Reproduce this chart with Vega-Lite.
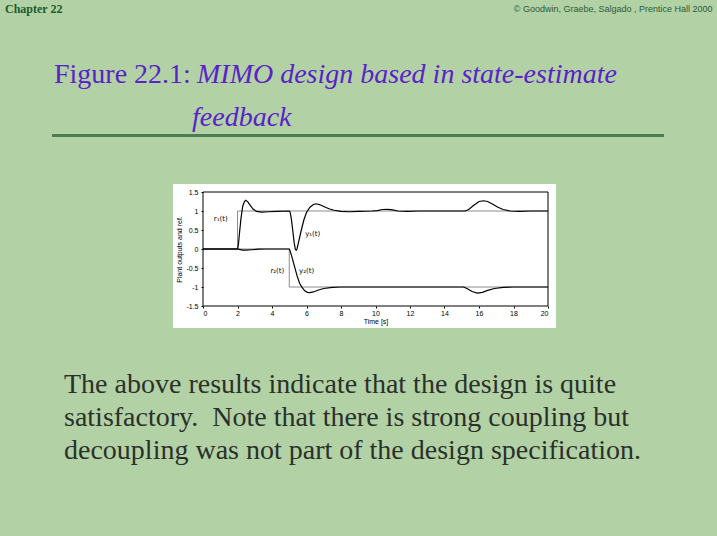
{
  "$schema": "https://vega.github.io/schema/vega-lite/v6.json",
  "width": 345,
  "height": 114,
  "autosize": {"type": "none"},
  "padding": {"left": 203, "top": 192, "right": 169, "bottom": 230},
  "background": "#b2d2a6",
  "config": {
    "view": {"stroke": null, "fill": "white"},
    "axis": {"titleFont": "Liberation Sans", "titleFontSize": 7, "titleFontWeight": "normal", "titleColor": "#000", "labelFont": "Liberation Sans", "labelFontSize": 7, "labelColor": "#000", "tickColor": "#000", "tickSize": 2, "domain": false, "grid": false},
    "axisX": {"titlePadding": 1, "labelPadding": 1},
    "axisY": {"titlePadding": 3, "labelPadding": 3}
  },
  "datasets": {
    "one": [{}],
    "curves": [
      {"series": "r1", "t": 0, "v": 0}, {"series": "r1", "t": 2, "v": 0}, {"series": "r1", "t": 2, "v": 1}, {"series": "r1", "t": 20, "v": 1},
      {"series": "r2", "t": 0, "v": 0}, {"series": "r2", "t": 5, "v": 0}, {"series": "r2", "t": 5, "v": -1}, {"series": "r2", "t": 20, "v": -1},
      {"series": "y1", "t": 0, "v": 0}, {"series": "y1", "t": 2.0, "v": 0}, {"series": "y1", "t": 2.05, "v": 0.1}, {"series": "y1", "t": 2.1, "v": 0.35},
      {"series": "y1", "t": 2.2, "v": 0.8}, {"series": "y1", "t": 2.3, "v": 1.12}, {"series": "y1", "t": 2.4, "v": 1.25}, {"series": "y1", "t": 2.48, "v": 1.28},
      {"series": "y1", "t": 2.6, "v": 1.24}, {"series": "y1", "t": 2.75, "v": 1.14}, {"series": "y1", "t": 2.9, "v": 1.05}, {"series": "y1", "t": 3.1, "v": 0.99},
      {"series": "y1", "t": 3.4, "v": 0.97}, {"series": "y1", "t": 3.8, "v": 0.98}, {"series": "y1", "t": 4.3, "v": 0.99}, {"series": "y1", "t": 5.0, "v": 1.0},
      {"series": "y1", "t": 5.05, "v": 0.97}, {"series": "y1", "t": 5.12, "v": 0.8}, {"series": "y1", "t": 5.2, "v": 0.5}, {"series": "y1", "t": 5.28, "v": 0.18},
      {"series": "y1", "t": 5.35, "v": 0.0}, {"series": "y1", "t": 5.4, "v": -0.03}, {"series": "y1", "t": 5.45, "v": 0.0}, {"series": "y1", "t": 5.55, "v": 0.2},
      {"series": "y1", "t": 5.7, "v": 0.5}, {"series": "y1", "t": 5.85, "v": 0.77}, {"series": "y1", "t": 6.0, "v": 0.96}, {"series": "y1", "t": 6.2, "v": 1.1},
      {"series": "y1", "t": 6.4, "v": 1.17}, {"series": "y1", "t": 6.55, "v": 1.19}, {"series": "y1", "t": 6.75, "v": 1.17}, {"series": "y1", "t": 7.0, "v": 1.12},
      {"series": "y1", "t": 7.3, "v": 1.06}, {"series": "y1", "t": 7.6, "v": 1.02}, {"series": "y1", "t": 8.0, "v": 0.99}, {"series": "y1", "t": 8.5, "v": 0.98},
      {"series": "y1", "t": 9.0, "v": 0.99}, {"series": "y1", "t": 9.8, "v": 1.0}, {"series": "y1", "t": 10.1, "v": 1.01}, {"series": "y1", "t": 10.4, "v": 1.04},
      {"series": "y1", "t": 10.7, "v": 1.045}, {"series": "y1", "t": 11.0, "v": 1.03}, {"series": "y1", "t": 11.3, "v": 1.0}, {"series": "y1", "t": 11.8, "v": 0.99},
      {"series": "y1", "t": 12.5, "v": 1.0}, {"series": "y1", "t": 15.2, "v": 1.0}, {"series": "y1", "t": 15.4, "v": 1.04}, {"series": "y1", "t": 15.7, "v": 1.15},
      {"series": "y1", "t": 16.0, "v": 1.25}, {"series": "y1", "t": 16.25, "v": 1.27}, {"series": "y1", "t": 16.5, "v": 1.25}, {"series": "y1", "t": 16.8, "v": 1.18},
      {"series": "y1", "t": 17.1, "v": 1.1}, {"series": "y1", "t": 17.4, "v": 1.04}, {"series": "y1", "t": 17.8, "v": 1.0}, {"series": "y1", "t": 18.3, "v": 0.99},
      {"series": "y1", "t": 19.0, "v": 1.0}, {"series": "y1", "t": 20.0, "v": 1.0},
      {"series": "y2", "t": 0, "v": 0}, {"series": "y2", "t": 2.0, "v": 0}, {"series": "y2", "t": 2.1, "v": -0.01}, {"series": "y2", "t": 2.3, "v": -0.03},
      {"series": "y2", "t": 2.5, "v": -0.03}, {"series": "y2", "t": 2.8, "v": -0.02}, {"series": "y2", "t": 3.2, "v": -0.005}, {"series": "y2", "t": 3.6, "v": 0},
      {"series": "y2", "t": 5.0, "v": 0}, {"series": "y2", "t": 5.05, "v": -0.05}, {"series": "y2", "t": 5.15, "v": -0.2}, {"series": "y2", "t": 5.3, "v": -0.45},
      {"series": "y2", "t": 5.45, "v": -0.7}, {"series": "y2", "t": 5.6, "v": -0.9}, {"series": "y2", "t": 5.75, "v": -1.02}, {"series": "y2", "t": 5.9, "v": -1.1},
      {"series": "y2", "t": 6.05, "v": -1.14}, {"series": "y2", "t": 6.2, "v": -1.15}, {"series": "y2", "t": 6.4, "v": -1.13}, {"series": "y2", "t": 6.7, "v": -1.08},
      {"series": "y2", "t": 7.0, "v": -1.04}, {"series": "y2", "t": 7.5, "v": -1.01}, {"series": "y2", "t": 8.0, "v": -1.0}, {"series": "y2", "t": 15.1, "v": -1.0},
      {"series": "y2", "t": 15.3, "v": -1.04}, {"series": "y2", "t": 15.6, "v": -1.12}, {"series": "y2", "t": 15.9, "v": -1.16}, {"series": "y2", "t": 16.2, "v": -1.14},
      {"series": "y2", "t": 16.5, "v": -1.09}, {"series": "y2", "t": 16.9, "v": -1.04}, {"series": "y2", "t": 17.4, "v": -1.01}, {"series": "y2", "t": 18.0, "v": -1.0},
      {"series": "y2", "t": 20.0, "v": -1.0}
    ],
    "labels": [
      {"label": "r₁(t)", "t": 1.03, "v": 0.78},
      {"label": "y₁(t)", "t": 6.36, "v": 0.39},
      {"label": "r₂(t)", "t": 4.31, "v": -0.57},
      {"label": "y₂(t)", "t": 6.01, "v": -0.57}
    ]
  },
  "layer": [
    {
      "data": {"name": "one"},
      "mark": {"type": "rect", "fill": "white"},
      "encoding": {
        "x": {"datum": -1.739, "type": "quantitative", "title": "Time [s]", "scale": {"domain": [0, 20], "nice": false}, "axis": {"values": [0, 2, 4, 6, 8, 10, 12, 14, 16, 18, 20], "format": "~g", "zindex": 1}},
        "x2": {"datum": 20.46},
        "y": {"datum": 1.711, "type": "quantitative", "title": "Plant outputs and ref.", "scale": {"domain": [-1.5, 1.5], "nice": false}, "axis": {"values": [-1.5, -1, -0.5, 0, 0.5, 1, 1.5], "format": "~g", "labelExpr": "replace(datum.label, '−', '-')", "zindex": 1}},
        "y2": {"datum": -2.079}
      }
    },
    {
      "data": {"name": "curves"},
      "transform": [{"filter": "datum.series == 'r1' || datum.series == 'r2'"}],
      "mark": {"type": "line", "stroke": "#808080", "strokeWidth": 0.9},
      "encoding": {
        "x": {"field": "t", "type": "quantitative", "title": "Time [s]", "scale": {"domain": [0, 20], "nice": false}, "axis": {"values": [0, 2, 4, 6, 8, 10, 12, 14, 16, 18, 20], "format": "~g", "zindex": 1}},
        "y": {"field": "v", "type": "quantitative", "title": "Plant outputs and ref.", "scale": {"domain": [-1.5, 1.5], "nice": false}, "axis": {"values": [-1.5, -1, -0.5, 0, 0.5, 1, 1.5], "format": "~g", "labelExpr": "replace(datum.label, '−', '-')", "zindex": 1}},
        "detail": {"field": "series"},
        "order": {"value": null}
      }
    },
    {
      "data": {"name": "curves"},
      "transform": [{"filter": "datum.series == 'y1' || datum.series == 'y2'"}],
      "mark": {"type": "line", "stroke": "#000", "strokeWidth": 1.2},
      "encoding": {
        "x": {"field": "t", "type": "quantitative", "title": "Time [s]", "scale": {"domain": [0, 20], "nice": false}, "axis": {"values": [0, 2, 4, 6, 8, 10, 12, 14, 16, 18, 20], "format": "~g", "zindex": 1}},
        "y": {"field": "v", "type": "quantitative", "title": "Plant outputs and ref.", "scale": {"domain": [-1.5, 1.5], "nice": false}, "axis": {"values": [-1.5, -1, -0.5, 0, 0.5, 1, 1.5], "format": "~g", "labelExpr": "replace(datum.label, '−', '-')", "zindex": 1}},
        "detail": {"field": "series"},
        "order": {"value": null}
      }
    },
    {
      "data": {"name": "labels"},
      "mark": {"type": "text", "font": "DejaVu Sans", "fontSize": 7, "color": "#000"},
      "encoding": {
        "x": {"field": "t", "type": "quantitative", "title": "Time [s]", "scale": {"domain": [0, 20], "nice": false}, "axis": {"values": [0, 2, 4, 6, 8, 10, 12, 14, 16, 18, 20], "format": "~g", "zindex": 1}},
        "y": {"field": "v", "type": "quantitative", "title": "Plant outputs and ref.", "scale": {"domain": [-1.5, 1.5], "nice": false}, "axis": {"values": [-1.5, -1, -0.5, 0, 0.5, 1, 1.5], "format": "~g", "labelExpr": "replace(datum.label, '−', '-')", "zindex": 1}},
        "text": {"field": "label"}
      }
    },
    {
      "data": {"name": "one"},
      "mark": {"type": "rect", "fill": null, "stroke": "#000", "strokeWidth": 1},
      "encoding": {
        "x": {"datum": 0, "type": "quantitative", "title": "Time [s]", "scale": {"domain": [0, 20], "nice": false}, "axis": {"values": [0, 2, 4, 6, 8, 10, 12, 14, 16, 18, 20], "format": "~g", "zindex": 1}},
        "x2": {"datum": 20},
        "y": {"datum": 1.5, "type": "quantitative", "title": "Plant outputs and ref.", "scale": {"domain": [-1.5, 1.5], "nice": false}, "axis": {"values": [-1.5, -1, -0.5, 0, 0.5, 1, 1.5], "format": "~g", "labelExpr": "replace(datum.label, '−', '-')", "zindex": 1}},
        "y2": {"datum": -1.5}
      }
    },
    {
      "data": {"name": "one"},
      "mark": {"type": "text", "text": "Chapter 22", "font": "Liberation Serif", "fontWeight": "bold", "fontSize": 12, "color": "#1d5a2c", "align": "left", "baseline": "middle"},
      "encoding": {
        "x": {"datum": -11.478, "type": "quantitative", "title": "Time [s]", "scale": {"domain": [0, 20], "nice": false}, "axis": {"values": [0, 2, 4, 6, 8, 10, 12, 14, 16, 18, 20], "format": "~g", "zindex": 1}},
        "y": {"datum": 6.316, "type": "quantitative", "title": "Plant outputs and ref.", "scale": {"domain": [-1.5, 1.5], "nice": false}, "axis": {"values": [-1.5, -1, -0.5, 0, 0.5, 1, 1.5], "format": "~g", "labelExpr": "replace(datum.label, '−', '-')", "zindex": 1}}
      }
    },
    {
      "data": {"name": "one"},
      "mark": {"type": "text", "text": "© Goodwin, Graebe, Salgado , Prentice Hall 2000", "font": "Liberation Sans", "fontSize": 9, "color": "#2a5a3a", "align": "right", "baseline": "middle"},
      "encoding": {
        "x": {"datum": 29.536, "type": "quantitative", "title": "Time [s]", "scale": {"domain": [0, 20], "nice": false}, "axis": {"values": [0, 2, 4, 6, 8, 10, 12, 14, 16, 18, 20], "format": "~g", "zindex": 1}},
        "y": {"datum": 6.316, "type": "quantitative", "title": "Plant outputs and ref.", "scale": {"domain": [-1.5, 1.5], "nice": false}, "axis": {"values": [-1.5, -1, -0.5, 0, 0.5, 1, 1.5], "format": "~g", "labelExpr": "replace(datum.label, '−', '-')", "zindex": 1}}
      }
    },
    {
      "data": {"name": "one"},
      "mark": {"type": "text", "text": "Figure 22.1:", "font": "Liberation Serif", "fontSize": 28, "color": "#5a22c8", "align": "left", "baseline": "alphabetic"},
      "encoding": {
        "x": {"datum": -8.638, "type": "quantitative", "title": "Time [s]", "scale": {"domain": [0, 20], "nice": false}, "axis": {"values": [0, 2, 4, 6, 8, 10, 12, 14, 16, 18, 20], "format": "~g", "zindex": 1}},
        "y": {"datum": 4.368, "type": "quantitative", "title": "Plant outputs and ref.", "scale": {"domain": [-1.5, 1.5], "nice": false}, "axis": {"values": [-1.5, -1, -0.5, 0, 0.5, 1, 1.5], "format": "~g", "labelExpr": "replace(datum.label, '−', '-')", "zindex": 1}}
      }
    },
    {
      "data": {"name": "one"},
      "mark": {"type": "text", "text": "MIMO design based in state-estimate", "font": "Liberation Serif", "fontStyle": "italic", "fontSize": 28, "color": "#5a22c8", "align": "left", "baseline": "alphabetic"},
      "encoding": {
        "x": {"datum": -0.348, "type": "quantitative", "title": "Time [s]", "scale": {"domain": [0, 20], "nice": false}, "axis": {"values": [0, 2, 4, 6, 8, 10, 12, 14, 16, 18, 20], "format": "~g", "zindex": 1}},
        "y": {"datum": 4.368, "type": "quantitative", "title": "Plant outputs and ref.", "scale": {"domain": [-1.5, 1.5], "nice": false}, "axis": {"values": [-1.5, -1, -0.5, 0, 0.5, 1, 1.5], "format": "~g", "labelExpr": "replace(datum.label, '−', '-')", "zindex": 1}}
      }
    },
    {
      "data": {"name": "one"},
      "mark": {"type": "text", "text": "feedback", "font": "Liberation Serif", "fontStyle": "italic", "fontSize": 28, "color": "#5a22c8", "align": "left", "baseline": "alphabetic"},
      "encoding": {
        "x": {"datum": -0.638, "type": "quantitative", "title": "Time [s]", "scale": {"domain": [0, 20], "nice": false}, "axis": {"values": [0, 2, 4, 6, 8, 10, 12, 14, 16, 18, 20], "format": "~g", "zindex": 1}},
        "y": {"datum": 3.25, "type": "quantitative", "title": "Plant outputs and ref.", "scale": {"domain": [-1.5, 1.5], "nice": false}, "axis": {"values": [-1.5, -1, -0.5, 0, 0.5, 1, 1.5], "format": "~g", "labelExpr": "replace(datum.label, '−', '-')", "zindex": 1}}
      }
    },
    {
      "data": {"name": "one"},
      "mark": {"type": "rule", "stroke": "#4a7e52", "strokeWidth": 3},
      "encoding": {
        "x": {"datum": -8.754, "type": "quantitative", "title": "Time [s]", "scale": {"domain": [0, 20], "nice": false}, "axis": {"values": [0, 2, 4, 6, 8, 10, 12, 14, 16, 18, 20], "format": "~g", "zindex": 1}},
        "x2": {"datum": 26.725},
        "y": {"datum": 2.987, "type": "quantitative", "title": "Plant outputs and ref.", "scale": {"domain": [-1.5, 1.5], "nice": false}, "axis": {"values": [-1.5, -1, -0.5, 0, 0.5, 1, 1.5], "format": "~g", "labelExpr": "replace(datum.label, '−', '-')", "zindex": 1}}
      }
    },
    {
      "data": {"name": "one"},
      "mark": {"type": "text", "text": ["The above results indicate that the design is quite", "satisfactory.\u00a0 Note that there is strong coupling but", "decoupling was not part of the design specification."], "font": "Liberation Serif", "fontSize": 28, "lineHeight": 33, "color": "#2b302b", "align": "left", "baseline": "alphabetic"},
      "encoding": {
        "x": {"datum": -8.058, "type": "quantitative", "title": "Time [s]", "scale": {"domain": [0, 20], "nice": false}, "axis": {"values": [0, 2, 4, 6, 8, 10, 12, 14, 16, 18, 20], "format": "~g", "zindex": 1}},
        "y": {"datum": -3.789, "type": "quantitative", "title": "Plant outputs and ref.", "scale": {"domain": [-1.5, 1.5], "nice": false}, "axis": {"values": [-1.5, -1, -0.5, 0, 0.5, 1, 1.5], "format": "~g", "labelExpr": "replace(datum.label, '−', '-')", "zindex": 1}}
      }
    }
  ]
}
